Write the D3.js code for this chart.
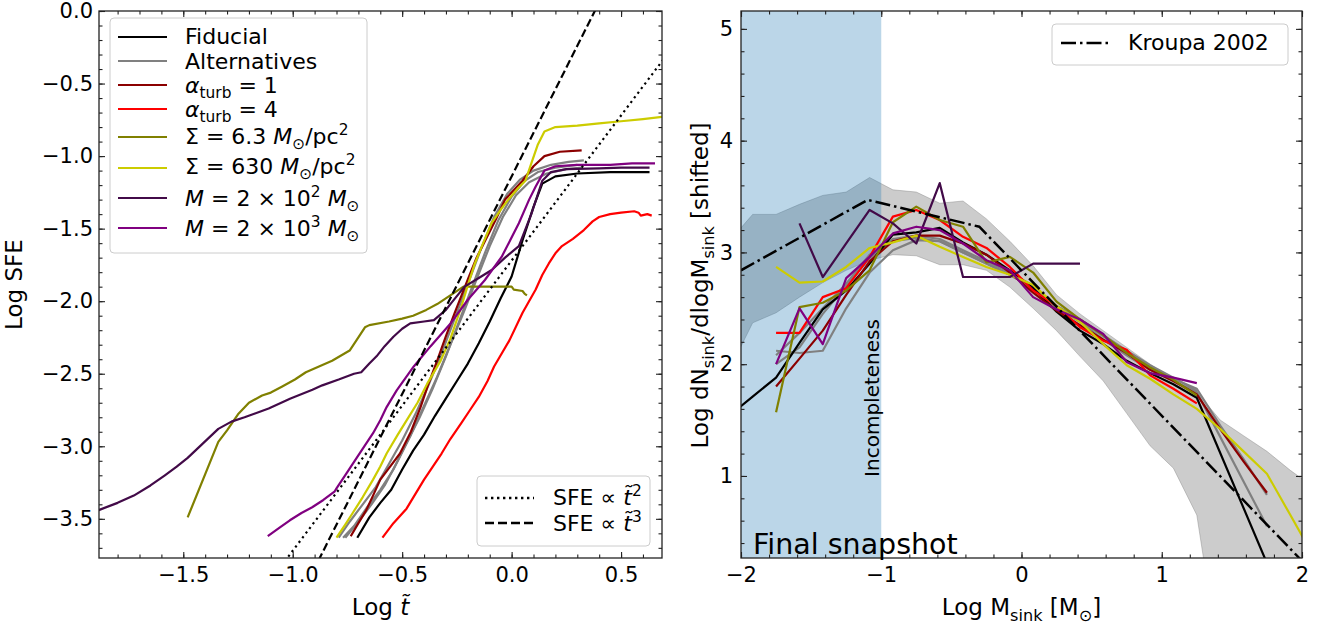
<!DOCTYPE html>
<html>
<head>
<meta charset="utf-8">
<script src="https://cdn.jsdelivr.net/npm/d3@7"></script>
<style>
  body { margin: 0; background: #fff; }
  svg text { font-family: "DejaVu Sans", sans-serif; fill: #000; }
</style>
</head>
<body>
<svg id="fig" width="1327" height="626"></svg>
<script>
// ---------------- Left panel: star formation efficiency vs normalised time ----------------
// each series: [log t~, log SFE]
const sfeFiducial = [[-0.705,-3.63],[-0.65,-3.49],[-0.60,-3.39],[-0.55,-3.30],[-0.50,-3.16],[-0.45,-3.03],[-0.40,-2.92],[-0.35,-2.79],[-0.30,-2.67],[-0.25,-2.55],[-0.20,-2.43],[-0.15,-2.29],[-0.10,-2.14],[-0.05,-1.98],[0.0,-1.83],[0.05,-1.58],[0.10,-1.35],[0.14,-1.19],[0.20,-1.14],[0.30,-1.12],[0.45,-1.11],[0.63,-1.11]];
const sfeAlt1 = [[-0.79,-3.63],[-0.74,-3.52],[-0.68,-3.40],[-0.62,-3.28],[-0.56,-3.12],[-0.50,-2.96],[-0.44,-2.78],[-0.38,-2.58],[-0.32,-2.36],[-0.26,-2.12],[-0.20,-1.88],[-0.14,-1.64],[-0.08,-1.42],[-0.02,-1.26],[0.04,-1.16],[0.10,-1.10],[0.18,-1.06],[0.26,-1.04],[0.33,-1.03]];
const sfeAlt2 = [[-0.77,-3.63],[-0.72,-3.55],[-0.66,-3.42],[-0.60,-3.30],[-0.54,-3.16],[-0.48,-2.98],[-0.42,-2.80],[-0.36,-2.60],[-0.30,-2.38],[-0.24,-2.14],[-0.18,-1.90],[-0.12,-1.66],[-0.06,-1.44],[0.0,-1.28],[0.06,-1.17],[0.12,-1.11],[0.20,-1.08],[0.30,-1.06]];
const sfeAlt3 = [[-0.76,-3.63],[-0.70,-3.52],[-0.64,-3.40],[-0.58,-3.27],[-0.52,-3.10],[-0.46,-2.92],[-0.40,-2.72],[-0.34,-2.52],[-0.28,-2.30],[-0.22,-2.08],[-0.16,-1.85],[-0.10,-1.62],[-0.04,-1.42],[0.02,-1.27],[0.08,-1.18],[0.16,-1.12],[0.25,-1.09],[0.32,-1.08]];
const sfeTurb1 = [[-0.735,-3.62],[-0.70,-3.53],[-0.664,-3.44],[-0.63,-3.33],[-0.60,-3.23],[-0.55,-3.13],[-0.51,-3.05],[-0.46,-2.90],[-0.416,-2.73],[-0.38,-2.57],[-0.34,-2.41],[-0.30,-2.24],[-0.26,-2.08],[-0.20,-1.85],[-0.16,-1.70],[-0.12,-1.58],[-0.07,-1.43],[-0.03,-1.30],[0.05,-1.17],[0.10,-1.07],[0.15,-1.00],[0.22,-0.97],[0.32,-0.96]];
const sfeTurb4 = [[-0.59,-3.63],[-0.54,-3.53],[-0.48,-3.43],[-0.44,-3.33],[-0.40,-3.23],[-0.36,-3.14],[-0.32,-3.05],[-0.28,-2.95],[-0.23,-2.84],[-0.19,-2.75],[-0.15,-2.66],[-0.11,-2.55],[-0.08,-2.45],[-0.01,-2.27],[0.05,-2.08],[0.11,-1.92],[0.14,-1.82],[0.17,-1.74],[0.20,-1.67],[0.23,-1.62],[0.28,-1.57],[0.33,-1.51],[0.37,-1.45],[0.40,-1.42],[0.45,-1.40],[0.50,-1.39],[0.56,-1.38],[0.58,-1.39],[0.59,-1.41],[0.62,-1.40],[0.64,-1.41]];
const sfeSigmaLow = [[-1.48,-3.49],[-1.34,-2.97],[-1.30,-2.89],[-1.25,-2.78],[-1.20,-2.70],[-1.14,-2.65],[-1.10,-2.63],[-1.05,-2.59],[-0.99,-2.54],[-0.94,-2.49],[-0.88,-2.45],[-0.82,-2.41],[-0.74,-2.34],[-0.70,-2.25],[-0.67,-2.18],[-0.65,-2.165],[-0.56,-2.14],[-0.50,-2.12],[-0.45,-2.10],[-0.39,-2.06],[-0.34,-2.02],[-0.28,-1.96],[-0.22,-1.90],[-0.10,-1.90],[0.0,-1.90],[0.01,-1.92],[0.05,-1.93],[0.06,-1.95],[0.07,-1.96]];
const sfeSigmaHigh = [[-0.80,-3.63],[-0.76,-3.54],[-0.726,-3.46],[-0.68,-3.35],[-0.633,-3.23],[-0.60,-3.14],[-0.571,-3.05],[-0.52,-2.92],[-0.479,-2.82],[-0.43,-2.70],[-0.386,-2.57],[-0.324,-2.41],[-0.28,-2.26],[-0.23,-2.04],[-0.20,-1.89],[-0.168,-1.74],[-0.13,-1.60],[-0.091,-1.46],[-0.05,-1.37],[-0.015,-1.30],[0.03,-1.22],[0.063,-1.17],[0.09,-1.05],[0.12,-0.92],[0.15,-0.83],[0.20,-0.80],[0.30,-0.79],[0.40,-0.775],[0.50,-0.76],[0.60,-0.745],[0.687,-0.73]];
const sfeMassLow = [[-1.886,-3.44],[-1.80,-3.39],[-1.726,-3.34],[-1.65,-3.27],[-1.584,-3.20],[-1.53,-3.14],[-1.48,-3.08],[-1.41,-2.98],[-1.34,-2.88],[-1.28,-2.83],[-1.22,-2.80],[-1.11,-2.74],[-1.01,-2.67],[-0.91,-2.61],[-0.865,-2.58],[-0.79,-2.54],[-0.72,-2.50],[-0.687,-2.49],[-0.65,-2.43],[-0.617,-2.38],[-0.58,-2.31],[-0.54,-2.245],[-0.50,-2.19],[-0.463,-2.153],[-0.40,-2.14],[-0.355,-2.13],[-0.30,-2.06],[-0.277,-2.015],[-0.215,-1.90],[-0.15,-1.84],[-0.091,-1.785],[-0.03,-1.70],[0.033,-1.62],[0.09,-1.40],[0.14,-1.17],[0.18,-1.11],[0.25,-1.09],[0.40,-1.085],[0.50,-1.08],[0.63,-1.08]];
const sfeMassHigh = [[-1.114,-3.62],[-1.06,-3.56],[-1.013,-3.51],[-0.96,-3.46],[-0.911,-3.42],[-0.86,-3.37],[-0.808,-3.31],[-0.80,-3.29],[-0.756,-3.19],[-0.695,-3.05],[-0.633,-2.91],[-0.60,-2.82],[-0.571,-2.73],[-0.525,-2.615],[-0.447,-2.45],[-0.37,-2.31],[-0.277,-2.15],[-0.20,-1.99],[-0.122,-1.854],[-0.045,-1.693],[0.033,-1.463],[0.08,-1.30],[0.11,-1.21],[0.15,-1.10],[0.20,-1.07],[0.30,-1.06],[0.45,-1.06],[0.55,-1.05],[0.655,-1.05]];
// power-law guides (end points)
const guideT2 = [[-1.10,-3.92],[0.70,-0.32]];
const guideT3 = [[-0.93,-3.93],[0.40,0.06]];

const sfeXTicks = [-1.5, -1.0, -0.5, 0.0, 0.5];
const sfeYTicks = [-3.5, -3.0, -2.5, -2.0, -1.5, -1.0, -0.5, 0.0];

// ---------------- Right panel: sink mass function ----------------
const massBins = [-2.083,-1.917,-1.75,-1.583,-1.417,-1.25,-1.083,-0.917,-0.75,-0.583,-0.417,-0.25,-0.083,0.083,0.25,0.417,0.583,0.75,0.917,1.083,1.25,1.417,1.583,1.75,1.917,2.083];
const mfFiducial  = [1.54,1.71,1.88,2.19,2.49,2.66,2.90,3.16,3.18,3.22,3.09,2.98,2.84,2.68,2.47,2.30,2.18,2.03,1.92,1.82,1.70,null,null,0.22,null,null];
const mfAlt1      = [null,null,2.12,2.10,2.12,2.50,2.82,3.02,3.11,3.10,3.00,2.90,2.80,2.68,2.50,2.38,2.22,2.08,1.95,1.85,1.75,null,null,0.55,null,null];
const mfAlt2      = [null,null,2.00,2.15,2.45,2.70,2.95,3.12,3.15,3.12,3.02,2.92,2.82,2.70,2.52,2.40,2.25,2.10,1.97,1.87,1.78,1.45,1.15,0.83,null,null];
const mfAlt3      = [null,null,2.08,2.28,2.50,2.72,2.98,3.10,3.13,3.10,3.00,2.90,2.80,2.68,2.52,2.40,2.26,2.12,1.99,1.88,1.76,null,null,null,null,null];
const mfTurb1     = [null,null,1.80,2.05,2.30,2.62,2.92,3.10,3.15,3.15,3.08,2.98,2.82,2.64,2.48,2.35,2.22,2.10,1.95,1.85,1.73,1.42,1.13,0.85,null,null];
const mfTurb4     = [null,null,2.28,2.28,2.60,2.68,2.96,3.32,3.38,3.29,3.14,3.04,2.87,2.66,2.52,2.33,2.21,2.13,1.90,1.78,1.65,null,null,null,null,null];
const mfSigmaLow  = [null,null,1.57,2.51,2.55,2.66,2.84,3.27,3.41,3.29,3.23,2.91,2.96,2.82,2.56,2.40,2.26,2.10,1.97,1.86,1.72,null,null,null,null,null];
const mfSigmaHigh = [null,null,2.87,2.73,2.74,2.87,3.04,3.09,3.15,3.05,2.96,2.87,2.80,2.71,2.52,2.38,2.18,1.99,1.87,1.73,1.60,1.42,1.22,1.02,0.65,0.28];
const mfMassLow   = [null,null,null,3.26,2.78,3.08,3.38,3.26,3.08,3.62,2.78,2.78,2.78,2.90,2.90,2.90,null,null,null,null,null,null,null,null,null,null];
const mfMassHigh  = [null,null,2.00,2.50,2.18,2.77,2.96,3.17,3.23,3.20,3.08,2.93,2.84,2.60,2.49,2.40,2.27,2.02,1.92,1.88,1.83,null,null,null,null,null];
// spread across the runs
const bandHigh = [3.10,3.34,3.34,3.43,3.51,3.54,3.67,3.56,3.54,3.44,3.46,3.30,3.10,2.88,2.62,2.45,2.30,2.15,2.00,1.86,1.75,1.50,1.36,1.22,1.05,0.90];
const bandLow  = [1.95,2.37,2.46,2.60,2.73,2.84,2.93,2.98,2.97,2.89,2.89,2.84,2.69,2.50,2.30,2.07,1.85,1.56,1.27,1.07,0.65,-0.70,-0.70,-0.70,-0.70,-0.70];
// Kroupa (2002) IMF break points
const kroupaLogM = [-2.0, -1.097, -0.301, 2.0];
const kroupaLogN = [2.84, 3.47, 3.23, 0.24];
const incompleteLimit = [-2.0, -1.0];

const mfXTicks = [-2, -1, 0, 1, 2];
const mfYTicks = [1, 2, 3, 4, 5];

// ---------------- styling ----------------
const runStyles = {
  fiducial:  { color: '#000000' },
  alt:       { color: '#808080' },
  turb1:     { color: '#8b0000' },
  turb4:     { color: '#ff0000' },
  sigmaLow:  { color: '#808000' },
  sigmaHigh: { color: '#cccc00' },
  massLow:   { color: '#420a48' },
  massHigh:  { color: '#800080' }
};
const LW = 2.2;
const TICK_FS = 21, LABEL_FS = 23, LEG_FS = 22;

const svg = d3.select('#fig');
const defs = svg.append('defs');

// panel frames
const P1 = { left: 99, right: 662, top: 11, bottom: 558 };
const P2 = { left: 741, right: 1302, top: 11, bottom: 558 };

const xT = d3.scaleLinear().domain([-1.885, 0.687]).range([P1.left, P1.right]);
const yS = d3.scaleLinear().domain([-3.77, 0]).range([P1.bottom, P1.top]);
const xM = d3.scaleLinear().domain([-2, 2]).range([P2.left, P2.right]);
const yN = d3.scaleLinear().domain([0.266, 5.16]).range([P2.bottom, P2.top]);

function clip(id, P) {
  defs.append('clipPath').attr('id', id).append('rect')
    .attr('x', P.left).attr('y', P.top)
    .attr('width', P.right - P.left).attr('height', P.bottom - P.top);
}
clip('clipL', P1); clip('clipR', P2);

// rich text: parts with italic / sub / sup flags
function rich(parent, x, y, parts, size, anchor) {
  const t = parent.append('text').attr('x', x).attr('y', y).attr('font-size', size);
  if (anchor) t.attr('text-anchor', anchor);
  let shift = 0;
  parts.forEach(p => {
    let target = 0, fs = size;
    if (p.sub) { target = 0.24 * size; fs = 0.7 * size; }
    if (p.sup) { target = -0.42 * size; fs = 0.7 * size; }
    const s = t.append('tspan').text(p.t).attr('font-size', fs).attr('dy', target - shift);
    if (p.it) s.attr('font-style', 'italic');
    shift = target;
  });
  return t;
}

// axes with inward ticks on all four sides
function drawAxes(P, xs, ys, xMajor, yMajor, xMinor, yMinor, xFmt, yFmt, yPad) {
  const g = svg.append('g');
  g.append('g').attr('transform', `translate(0,${P.bottom})`)
    .call(d3.axisBottom(xs).tickValues(xMajor).tickFormat(xFmt).tickSize(-6).tickSizeOuter(0).tickPadding(9));
  g.append('g').attr('transform', `translate(0,${P.bottom})`)
    .call(d3.axisBottom(xs).tickValues(xMinor).tickFormat('').tickSize(-3.5).tickSizeOuter(0));
  g.append('g').attr('transform', `translate(0,${P.top})`)
    .call(d3.axisTop(xs).tickValues(xMajor).tickFormat('').tickSize(-6).tickSizeOuter(0));
  g.append('g').attr('transform', `translate(0,${P.top})`)
    .call(d3.axisTop(xs).tickValues(xMinor).tickFormat('').tickSize(-3.5).tickSizeOuter(0));
  g.append('g').attr('transform', `translate(${P.left},0)`)
    .call(d3.axisLeft(ys).tickValues(yMajor).tickFormat(yFmt).tickSize(-6).tickSizeOuter(0).tickPadding(yPad));
  g.append('g').attr('transform', `translate(${P.left},0)`)
    .call(d3.axisLeft(ys).tickValues(yMinor).tickFormat('').tickSize(-3.5).tickSizeOuter(0));
  g.append('g').attr('transform', `translate(${P.right},0)`)
    .call(d3.axisRight(ys).tickValues(yMajor).tickFormat('').tickSize(-6).tickSizeOuter(0));
  g.append('g').attr('transform', `translate(${P.right},0)`)
    .call(d3.axisRight(ys).tickValues(yMinor).tickFormat('').tickSize(-3.5).tickSizeOuter(0));
  g.selectAll('.domain').remove();
  g.selectAll('.tick line').attr('stroke', '#222').attr('stroke-width', 1.1);
  g.selectAll('.tick text').attr('font-size', TICK_FS).attr('font-family', '"DejaVu Sans", sans-serif').attr('fill', '#000');
  g.append('rect').attr('x', P.left).attr('y', P.top)
    .attr('width', P.right - P.left).attr('height', P.bottom - P.top)
    .attr('fill', 'none').attr('stroke', '#222').attr('stroke-width', 1.3);
  return g;
}

// ======== LEFT PANEL ========
const gL = svg.append('g').attr('clip-path', 'url(#clipL)');
const lineT = d3.line().x(d => xT(d[0])).y(d => yS(d[1]));

const sfeRuns = [
  { data: sfeAlt1, s: runStyles.alt },
  { data: sfeAlt2, s: runStyles.alt },
  { data: sfeAlt3, s: runStyles.alt },
  { data: sfeFiducial, s: runStyles.fiducial },
  { data: sfeTurb1, s: runStyles.turb1 },
  { data: sfeTurb4, s: runStyles.turb4 },
  { data: sfeSigmaLow, s: runStyles.sigmaLow },
  { data: sfeSigmaHigh, s: runStyles.sigmaHigh },
  { data: sfeMassLow, s: runStyles.massLow },
  { data: sfeMassHigh, s: runStyles.massHigh }
];
gL.selectAll('path.run').data(sfeRuns).join('path')
  .attr('class', 'run')
  .attr('d', d => lineT(d.data))
  .attr('fill', 'none').attr('stroke', d => d.s.color)
  .attr('stroke-width', LW).attr('stroke-linejoin', 'round');

gL.append('path').attr('d', lineT(guideT2)).attr('fill', 'none')
  .attr('stroke', '#000').attr('stroke-width', 2.2).attr('stroke-dasharray', '2.2,3.6');
gL.append('path').attr('d', lineT(guideT3)).attr('fill', 'none')
  .attr('stroke', '#000').attr('stroke-width', 2.2).attr('stroke-dasharray', '8,3.5');

const fmt1 = d3.format('.1f');
drawAxes(P1, xT, yS, sfeXTicks, sfeYTicks,
  d3.range(-18, 7).map(i => i / 10), d3.range(-37, 1).map(i => i / 10),
  fmt1, fmt1, 6);

// axis labels
rich(svg, (P1.left + P1.right) / 2, 615, [{ t: 'Log ' }, { t: 't\u0303', it: true }], LABEL_FS, 'middle');
rich(svg.append('g').attr('transform', `translate(22,${(P1.top + P1.bottom) / 2}) rotate(-90)`),
  0, 0, [{ t: 'Log SFE' }], LABEL_FS, 'middle');

// legend of runs
const leg1 = svg.append('g');
leg1.append('rect').attr('x', 110).attr('y', 18).attr('width', 257).attr('height', 235)
  .attr('rx', 4).attr('fill', '#fff').attr('fill-opacity', 0.8)
  .attr('stroke', '#cccccc').attr('stroke-width', 1);
const leg1Items = [
  { s: runStyles.fiducial, ly: 37, ty: 44, parts: [{ t: 'Fiducial' }] },
  { s: runStyles.alt, ly: 61, ty: 68.5, parts: [{ t: 'Alternatives' }] },
  { s: runStyles.turb1, ly: 85, ty: 92.5, parts: [{ t: 'α', it: true }, { t: 'turb', sub: true }, { t: ' = 1' }] },
  { s: runStyles.turb4, ly: 109, ty: 116.5, parts: [{ t: 'α', it: true }, { t: 'turb', sub: true }, { t: ' = 4' }] },
  { s: runStyles.sigmaLow, ly: 137, ty: 144, parts: [{ t: 'Σ = 6.3 ' }, { t: 'M', it: true }, { t: '⊙', sub: true }, { t: '/pc' }, { t: '2', sup: true }] },
  { s: runStyles.sigmaHigh, ly: 168, ty: 174, parts: [{ t: 'Σ = 630 ' }, { t: 'M', it: true }, { t: '⊙', sub: true }, { t: '/pc' }, { t: '2', sup: true }] },
  { s: runStyles.massLow, ly: 198, ty: 206, parts: [{ t: 'M', it: true }, { t: ' = 2 × 10' }, { t: '2', sup: true }, { t: ' ' }, { t: 'M', it: true }, { t: '⊙', sub: true }] },
  { s: runStyles.massHigh, ly: 228, ty: 236, parts: [{ t: 'M', it: true }, { t: ' = 2 × 10' }, { t: '3', sup: true }, { t: ' ' }, { t: 'M', it: true }, { t: '⊙', sub: true }] }
];
leg1Items.forEach(it => {
  leg1.append('line').attr('x1', 118).attr('x2', 167).attr('y1', it.ly).attr('y2', it.ly)
    .attr('stroke', it.s.color).attr('stroke-width', LW);
  rich(leg1, 185, it.ty, it.parts, LEG_FS);
});

// legend of power-law guides
const leg2 = svg.append('g');
leg2.append('rect').attr('x', 477).attr('y', 476).attr('width', 173).attr('height', 70)
  .attr('rx', 4).attr('fill', '#fff').attr('fill-opacity', 0.8)
  .attr('stroke', '#cccccc').attr('stroke-width', 1);
leg2.append('line').attr('x1', 485).attr('x2', 534).attr('y1', 498).attr('y2', 498)
  .attr('stroke', '#000').attr('stroke-width', 2.4).attr('stroke-dasharray', '2.4,3.6');
leg2.append('line').attr('x1', 485).attr('x2', 534).attr('y1', 523).attr('y2', 523)
  .attr('stroke', '#000').attr('stroke-width', 2.4).attr('stroke-dasharray', '9,4');
rich(leg2, 553, 505, [{ t: 'SFE ∝ ' }, { t: 't\u0303', it: true }, { t: '2', sup: true }], LEG_FS);
rich(leg2, 553, 531, [{ t: 'SFE ∝ ' }, { t: 't\u0303', it: true }, { t: '3', sup: true }], LEG_FS);

// ======== RIGHT PANEL ========
const gR = svg.append('g').attr('clip-path', 'url(#clipR)');
const bandPts = massBins.map((m, i) => ({ m, lo: bandLow[i], hi: bandHigh[i] }));
gR.append('path')
  .attr('d', d3.area().x(d => xM(d.m)).y0(d => yN(d.lo)).y1(d => yN(d.hi))(bandPts))
  .attr('fill', 'rgba(128,128,128,0.4)').attr('stroke', 'rgba(128,128,128,0.4)').attr('stroke-width', 1);
gR.append('rect')
  .attr('x', xM(incompleteLimit[0])).attr('y', P2.top)
  .attr('width', xM(incompleteLimit[1]) - xM(incompleteLimit[0])).attr('height', P2.bottom - P2.top)
  .attr('fill', 'rgba(31,119,180,0.3)');

const lineM = d3.line().x(d => xM(d[0])).y(d => yN(d[1]));
const pairs = vals => massBins.map((m, i) => [m, vals[i]]).filter(d => d[1] !== null);
const mfRuns = [
  { data: mfAlt1, s: runStyles.alt },
  { data: mfAlt2, s: runStyles.alt },
  { data: mfAlt3, s: runStyles.alt },
  { data: mfFiducial, s: runStyles.fiducial },
  { data: mfTurb1, s: runStyles.turb1 },
  { data: mfTurb4, s: runStyles.turb4 },
  { data: mfSigmaLow, s: runStyles.sigmaLow },
  { data: mfSigmaHigh, s: runStyles.sigmaHigh },
  { data: mfMassLow, s: runStyles.massLow },
  { data: mfMassHigh, s: runStyles.massHigh }
];
gR.selectAll('path.run').data(mfRuns).join('path')
  .attr('class', 'run')
  .attr('d', d => lineM(pairs(d.data)))
  .attr('fill', 'none').attr('stroke', d => d.s.color)
  .attr('stroke-width', LW).attr('stroke-linejoin', 'round');

gR.append('path')
  .attr('d', lineM(kroupaLogM.map((m, i) => [m, kroupaLogN[i]])))
  .attr('fill', 'none').attr('stroke', '#000').attr('stroke-width', 2.5)
  .attr('stroke-dasharray', '15,4,2.5,4');

drawAxes(P2, xM, yN, mfXTicks, mfYTicks,
  d3.range(-10, 11).map(i => i / 5), d3.range(2, 26).map(i => i / 5),
  d3.format('d'), d3.format('d'), 8);

// annotations
svg.append('text').attr('x', 753).attr('y', 554).attr('font-size', 28.5).text('Final snapshot');
svg.append('g').attr('transform', 'translate(879,398) rotate(-90)')
  .append('text').attr('text-anchor', 'middle').attr('font-size', 20).text('Incompleteness');

// axis labels
rich(svg, (P2.left + P2.right) / 2, 615,
  [{ t: 'Log M' }, { t: 'sink', sub: true }, { t: ' [M' }, { t: '⊙', sub: true }, { t: ']' }], LABEL_FS, 'middle');
rich(svg.append('g').attr('transform', `translate(708,${(P2.top + P2.bottom) / 2 + 1}) rotate(-90)`), 0, 0,
  [{ t: 'Log dN' }, { t: 'sink', sub: true }, { t: '/dlogM' }, { t: 'sink', sub: true }, { t: ' [shifted]' }], LABEL_FS, 'middle');

// Kroupa legend
const leg3 = svg.append('g');
leg3.append('rect').attr('x', 1052).attr('y', 24).attr('width', 236).attr('height', 41)
  .attr('rx', 4).attr('fill', '#fff').attr('fill-opacity', 0.8)
  .attr('stroke', '#cccccc').attr('stroke-width', 1);
leg3.append('line').attr('x1', 1061).attr('x2', 1110).attr('y1', 43).attr('y2', 43)
  .attr('stroke', '#000').attr('stroke-width', 2.5).attr('stroke-dasharray', '15,4,2.5,4');
leg3.append('text').attr('x', 1128).attr('y', 50).attr('font-size', LEG_FS).text('Kroupa 2002');
</script>
</body>
</html>
